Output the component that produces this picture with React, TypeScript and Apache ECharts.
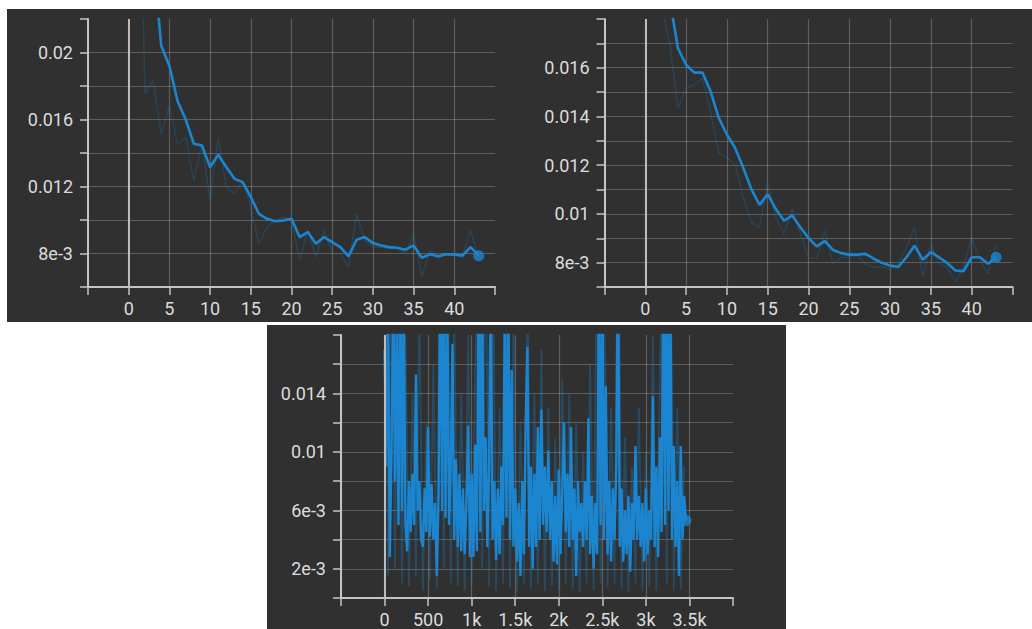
import React, { useEffect, useRef } from "react";
import * as echarts from "echarts";

// ---------- Panel 1 (top left) ----------
const epochs1 = [1, 2, 3, 4, 5, 6, 7, 8, 9, 10, 11, 12, 13, 14, 15, 16, 17, 18, 19, 20, 21, 22, 23, 24, 25, 26, 27, 28, 29, 30, 31, 32, 33, 34, 35, 36, 37, 38, 39, 40, 41, 42, 43];
const smooth1 = [0.036, 0.03, 0.0257, 0.0204, 0.0192, 0.0171, 0.016, 0.01455, 0.01445, 0.01315, 0.0139, 0.01315, 0.01246, 0.01226, 0.01137, 0.01037, 0.01007, 0.00993, 0.00997, 0.01007, 0.00898, 0.00928, 0.00858, 0.00898, 0.00868, 0.00838, 0.00783, 0.00882, 0.00898, 0.00862, 0.00848, 0.00838, 0.00834, 0.00823, 0.00848, 0.00775, 0.00795, 0.00783, 0.00795, 0.00795, 0.00787, 0.00838, 0.00787];
const raw1 = [0.04, 0.01752, 0.01832, 0.01514, 0.01683, 0.01454, 0.01494, 0.01236, 0.01454, 0.01117, 0.01494, 0.01196, 0.01156, 0.01236, 0.01077, 0.00858, 0.00958, 0.00997, 0.01017, 0.00997, 0.00759, 0.00938, 0.00779, 0.00938, 0.00799, 0.00799, 0.00719, 0.01037, 0.00878, 0.00838, 0.00838, 0.00829, 0.00829, 0.00799, 0.00918, 0.0066, 0.00819, 0.00769, 0.00799, 0.00789, 0.00779, 0.00938, 0.00769];
const yTicks1 = [0.008, 0.012, 0.016, 0.02];
const yLabels1 = ["8e-3", "0.012", "0.016", "0.02"];

// ---------- Panel 2 (top right) ----------
const epochs2 = [1, 2, 3, 4, 5, 6, 7, 8, 9, 10, 11, 12, 13, 14, 15, 16, 17, 18, 19, 20, 21, 22, 23, 24, 25, 26, 27, 28, 29, 30, 31, 32, 33, 34, 35, 36, 37, 38, 39, 40, 41, 42, 43];
const smooth2 = [0.025, 0.021, 0.0188, 0.0168, 0.01612, 0.0158, 0.0158, 0.01503, 0.01394, 0.01326, 0.01271, 0.0119, 0.01101, 0.01037, 0.01081, 0.0102, 0.00972, 0.00993, 0.00945, 0.00901, 0.00867, 0.00888, 0.00852, 0.00839, 0.00833, 0.00833, 0.00836, 0.00816, 0.00799, 0.00788, 0.00782, 0.00822, 0.0087, 0.00812, 0.00843, 0.00822, 0.00798, 0.00768, 0.00765, 0.00822, 0.00822, 0.00795, 0.00822];
const raw2 = [0.03, 0.0185, 0.017, 0.01435, 0.01516, 0.0153, 0.01557, 0.01421, 0.01251, 0.01231, 0.01203, 0.01067, 0.00965, 0.00945, 0.01129, 0.00986, 0.00918, 0.0102, 0.00918, 0.00822, 0.00816, 0.00931, 0.00795, 0.00822, 0.00822, 0.00829, 0.00795, 0.00782, 0.00782, 0.00775, 0.00795, 0.00863, 0.00945, 0.00741, 0.00877, 0.00795, 0.00782, 0.0072, 0.00782, 0.00904, 0.00809, 0.00754, 0.00877];
const yTicks2 = [0.008, 0.01, 0.012, 0.014, 0.016];
const yLabels2 = ["8e-3", "0.01", "0.012", "0.014", "0.016"];

const xTicksEpoch = [0, 5, 10, 15, 20, 25, 30, 35, 40];
const xLabelsEpoch = ["0", "5", "10", "15", "20", "25", "30", "35", "40"];

// ---------- Panel 3 (bottom) ----------
const stepSmooth3 = 20; // spacing between recorded smoothed steps
const smooth3 = [
  0.017, 0.009, 0.021, 0.0028, 0.01,
  0.022, 0.008, 0.019, 0.005, 0.023,
  0.006, 0.021, 0.005, 0.0032, 0.008,
  0.0045, 0.0085, 0.005, 0.0153, 0.006,
  0.008, 0.004, 0.0035, 0.0075, 0.0045,
  0.0117, 0.0042, 0.0078, 0.004, 0.0065,
  0.0015, 0.007, 0.024, 0.006, 0.022,
  0.0055, 0.021, 0.005, 0.009, 0.0174,
  0.004, 0.0095, 0.0035, 0.0085, 0.0032,
  0.0075, 0.003, 0.0065, 0.0118, 0.0028,
  0.0085, 0.0028, 0.0105, 0.0032, 0.024,
  0.0045, 0.022, 0.006, 0.011, 0.0035,
  0.009, 0.023, 0.004, 0.008, 0.0026,
  0.0075, 0.003, 0.009, 0.005, 0.02,
  0.0055, 0.022, 0.004, 0.0156, 0.0035,
  0.0075, 0.0025, 0.0065, 0.0015, 0.008,
  0.003, 0.012, 0.0172, 0.0035, 0.009,
  0.002, 0.0085, 0.0035, 0.0117, 0.004,
  0.0129, 0.005, 0.009, 0.0045, 0.0101,
  0.004, 0.008, 0.0025, 0.007, 0.0023,
  0.0088, 0.003, 0.0075, 0.012, 0.0045,
  0.0085, 0.0035, 0.0117, 0.004, 0.0075,
  0.0015, 0.008, 0.0045, 0.0065, 0.0035,
  0.008, 0.004, 0.0123, 0.003, 0.007,
  0.002, 0.0065, 0.003, 0.022, 0.005,
  0.023, 0.004, 0.0145, 0.003, 0.008,
  0.0025, 0.0075, 0.004, 0.009, 0.024,
  0.0035, 0.0075, 0.0025, 0.006, 0.003,
  0.007, 0.0018, 0.0065, 0.004, 0.0104,
  0.004, 0.007, 0.0035, 0.0065, 0.0025,
  0.0075, 0.003, 0.006, 0.004, 0.0138,
  0.0035, 0.009, 0.0028, 0.011, 0.0045,
  0.024, 0.005, 0.023, 0.006, 0.022,
  0.004, 0.0104, 0.0035, 0.008, 0.0015,
  0.0104, 0.004, 0.007, 0.0053,
];
const stepRaw3 = 40;
const raw3 = [
  0.03, 0.0015, 0.025, 0.002, 0.022, 0.001, 0.018, 0.0008, 0.014, 0.0015,
  0.02, 0.0005, 0.012, 0.0012, 0.016, 0.0006, 0.03, 0.002, 0.028, 0.001,
  0.02, 0.0008, 0.014, 0.0005, 0.018, 0.001, 0.015, 0.03, 0.002, 0.025,
  0.0008, 0.028, 0.0005, 0.013, 0.001, 0.026, 0.0007, 0.019, 0.0004, 0.012,
  0.001, 0.022, 0.0006, 0.014, 0.0009, 0.017, 0.0005, 0.013, 0.0008, 0.011,
  0.0005, 0.015, 0.001, 0.014, 0.0006, 0.012, 0.0004, 0.01, 0.001, 0.016,
  0.0005, 0.026, 0.001, 0.024, 0.0007, 0.013, 0.001, 0.03, 0.0006, 0.011,
  0.0004, 0.009, 0.001, 0.013, 0.0005, 0.01, 0.0008, 0.018, 0.0005, 0.015,
  0.03, 0.001, 0.028, 0.0005, 0.013, 0.0006, 0.009,
];
const yTicks3 = [0.002, 0.006, 0.01, 0.014];
const yLabels3 = ["2e-3", "6e-3", "0.01", "0.014"];
const xTicks3 = [0, 500, 1000, 1500, 2000, 2500, 3000, 3500];
const xLabels3 = ["0", "500", "1k", "1.5k", "2k", "2.5k", "3k", "3.5k"];

// ---------- styling ----------
const BG = "#303030";
const BLUE = "#1b86cf";
const AXIS = "#c4c4c4";
const GRIDLINE = "rgba(255,255,255,0.22)";
const TEXT = "#dcdcdc";
const FONT = "Roboto";

const labelFrom = (ticks: number[], labels: string[]) => (v: number) => {
  const i = ticks.findIndex((t) => Math.abs(t - v) < 1e-7);
  return i >= 0 ? labels[i] : "";
};

const makeX = (gridIndex: number, min: number, max: number, interval: number, ticks: number[], labels: string[]) => ({
  type: "value",
  gridIndex,
  min,
  max,
  interval,
  axisLine: { show: true, onZero: false, lineStyle: { color: AXIS, width: 2 } },
  axisTick: { show: true, length: 8, lineStyle: { color: AXIS, width: 1.5 } },
  splitLine: { show: true, showMaxLine: false, lineStyle: { color: GRIDLINE, width: 1.2 } },
  axisLabel: {
    show: true,
    color: TEXT,
    fontFamily: FONT,
    fontSize: 18,
    margin: 12,
    showMinLabel: true,
    showMaxLabel: true,
    formatter: labelFrom(ticks, labels),
  },
});

const makeY = (gridIndex: number, min: number, max: number, interval: number, ticks: number[], labels: string[]) => ({
  type: "value",
  gridIndex,
  min,
  max,
  interval,
  axisLine: { show: true, onZero: false, lineStyle: { color: AXIS, width: 2 } },
  axisTick: { show: true, length: 8, lineStyle: { color: AXIS, width: 1.5 } },
  splitLine: { show: true, showMaxLine: false, lineStyle: { color: GRIDLINE, width: 1.2 } },
  axisLabel: {
    show: true,
    color: TEXT,
    fontFamily: FONT,
    fontSize: 18,
    margin: 15,
    showMinLabel: true,
    showMaxLabel: true,
    formatter: labelFrom(ticks, labels),
  },
});

const zeroLine = {
  silent: true,
  symbol: ["none", "none"],
  label: { show: false },
  lineStyle: { color: "#bdbdbd", width: 2, type: "solid" },
  data: [{ xAxis: 0 }],
};

const panelSeries = (idx: number, xs: number[], smooth: number[], raw: number[], rawXs: number[], w: number, rawW: number, rawOpacity: number) => [
  {
    type: "line",
    xAxisIndex: idx,
    yAxisIndex: idx,
    data: raw.map((v, i) => [rawXs[i], v]),
    showSymbol: false,
    symbol: "none",
    clip: true,
    lineStyle: { color: BLUE, width: rawW, opacity: rawOpacity },
    z: 2,
  },
  {
    type: "line",
    xAxisIndex: idx,
    yAxisIndex: idx,
    data: smooth.map((v, i) => [xs[i], v]),
    showSymbol: false,
    symbol: "none",
    clip: true,
    lineStyle: { color: BLUE, width: w },
    markLine: zeroLine,
    z: 3,
  },
  {
    type: "scatter",
    xAxisIndex: idx,
    yAxisIndex: idx,
    data: [[xs[xs.length - 1], smooth[smooth.length - 1]]],
    symbolSize: 11,
    itemStyle: { color: BLUE },
    z: 4,
  },
];

const steps3 = smooth3.map((_, i) => i * stepSmooth3);
const rawSteps3 = raw3.map((_, i) => i * stepRaw3);

const option = {
  animation: false,
  backgroundColor: "#ffffff",
  textStyle: { fontFamily: FONT },
  graphic: [
    { type: "rect", z: -10, silent: true, shape: { x: 7, y: 9, width: 1025, height: 313 }, style: { fill: BG } },
    { type: "rect", z: -10, silent: true, shape: { x: 267, y: 325, width: 519, height: 304 }, style: { fill: BG } },
  ],
  grid: [
    { left: 88, top: 19, width: 407, height: 268 },
    { left: 604.5, top: 19, width: 408, height: 268 },
    { left: 341, top: 335, width: 392, height: 263 },
  ],
  xAxis: [
    makeX(0, -5, 45, 5, xTicksEpoch, xLabelsEpoch),
    makeX(1, -5, 45, 5, xTicksEpoch, xLabelsEpoch),
    makeX(2, -500, 4000, 500, xTicks3, xLabels3),
  ],
  yAxis: [
    makeY(0, 0.006, 0.022, 0.002, yTicks1, yLabels1),
    makeY(1, 0.007, 0.018, 0.001, yTicks2, yLabels2),
    makeY(2, 0, 0.018, 0.002, yTicks3, yLabels3),
  ],
  series: [
    ...panelSeries(0, epochs1, smooth1, raw1, epochs1, 2.6, 1.5, 0.22),
    ...panelSeries(1, epochs2, smooth2, raw2, epochs2, 2.6, 1.5, 0.22),
    ...panelSeries(2, steps3, smooth3, raw3, rawSteps3, 2.4, 1.8, 0.3),
  ],
};

export default function App() {
  const ref = useRef<HTMLDivElement>(null);
  useEffect(() => {
    const chart = echarts.init(ref.current as HTMLDivElement, null, { renderer: "svg" });
    chart.setOption(option as any);
    return () => chart.dispose();
  }, []);
  return (
    <div
      ref={ref}
      style={{ position: "fixed", left: 0, top: 0, width: 1032, height: 629, background: "#fff" }}
    />
  );
}
